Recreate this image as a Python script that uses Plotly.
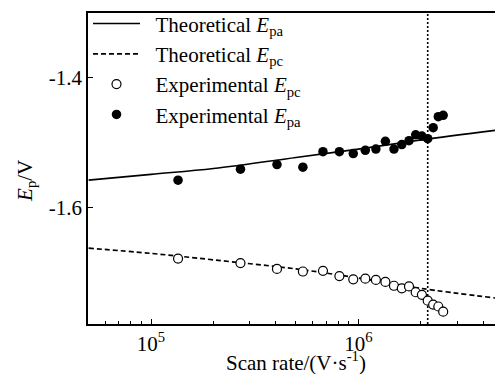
import plotly.graph_objects as go

# Scan rates of the measurements (V/s)
scan_rate = [1.35e5, 2.70e5, 4.05e5, 5.40e5, 6.75e5, 8.10e5, 9.45e5, 1.08e6,
             1.215e6, 1.35e6, 1.485e6, 1.62e6, 1.755e6, 1.89e6, 2.025e6,
             2.16e6, 2.295e6, 2.43e6, 2.565e6]

# Measured anodic / cathodic peak potentials (V)
exp_epa = [-1.558, -1.541, -1.534, -1.538, -1.514, -1.514, -1.517, -1.512,
           -1.510, -1.498, -1.510, -1.503, -1.497, -1.488, -1.490, -1.494,
           -1.477, -1.460, -1.458]
exp_epc = [-1.679, -1.686, -1.695, -1.699, -1.698, -1.706, -1.711, -1.710,
           -1.712, -1.715, -1.721, -1.725, -1.722, -1.731, -1.735, -1.744,
           -1.750, -1.753, -1.761]

# Simulated peak potentials
theory_rate = [5.0e4, 1.0e5, 2.0e5, 5.0e5, 1.0e6, 2.0e6, 4.6e6]
theory_epa = [-1.558, -1.549, -1.540, -1.523, -1.510, -1.496, -1.481]
theory_epc = [-1.663, -1.671, -1.681, -1.695, -1.709, -1.725, -1.740]

# Critical scan rate marker
critical_rate = 2.16e6

y_range = [-1.78, -1.30]
y_ticks = [-1.4, -1.6]
y_ticktext = ["-1.4", "-1.6"]
x_ticks = [1e5, 1e6]
x_ticktext = ["10<sup>5</sup>", "10<sup>6</sup>"]
x_minor = [6e4, 7e4, 8e4, 9e4, 2e5, 3e5, 4e5, 5e5, 6e5, 7e5, 8e5, 9e5,
           2e6, 3e6, 4e6]

FONT = "Liberation Serif, Times New Roman, serif"
FS = 21
PAD = "&nbsp;&nbsp;"

fig = go.Figure()

fig.add_trace(go.Scatter(
    x=[critical_rate, critical_rate], y=y_range, mode="lines",
    line=dict(color="black", width=1.6, dash="2px,2px"),
    showlegend=False, hoverinfo="skip"))

fig.add_trace(go.Scatter(
    x=theory_rate, y=theory_epa, mode="lines", line_shape="spline",
    line=dict(color="black", width=1.7),
    name=PAD + "Theoretical <i>E</i><sub>pa</sub>"))

fig.add_trace(go.Scatter(
    x=theory_rate, y=theory_epc, mode="lines", line_shape="spline",
    line=dict(color="black", width=1.7, dash="5px,3px"),
    name=PAD + "Theoretical <i>E</i><sub>pc</sub>"))

fig.add_trace(go.Scatter(
    x=scan_rate, y=exp_epc, mode="markers",
    marker=dict(symbol="circle", size=9, color="white",
                line=dict(color="black", width=1.2)),
    name=PAD + "Experimental <i>E</i><sub>pc</sub>"))

fig.add_trace(go.Scatter(
    x=scan_rate, y=exp_epa, mode="markers",
    marker=dict(symbol="circle", size=9.5, color="black",
                line=dict(color="black", width=0)),
    name=PAD + "Experimental <i>E</i><sub>pa</sub>"))

fig.update_layout(
    width=495, height=374,
    margin=dict(l=88, r=0, t=13, b=50),
    paper_bgcolor="white", plot_bgcolor="white",
    font=dict(family=FONT, size=FS, color="black"),
    legend=dict(x=0.0, y=1.031, xanchor="left", yanchor="top",
                bgcolor="rgba(0,0,0,0)", borderwidth=0,
                font=dict(family=FONT, size=FS), itemwidth=47,
                traceorder="normal"),
    xaxis=dict(type="log", range=[4.696, 6.659],
               showline=True, linecolor="black", linewidth=1.5, mirror=True,
               ticks="inside", ticklen=5, tickwidth=1.2, tickcolor="black",
               tickmode="array", tickvals=x_ticks, ticktext=x_ticktext,
               minor=dict(tickmode="array", tickvals=x_minor, ticks="inside",
                          ticklen=3, tickwidth=1, tickcolor="black"),
               showgrid=False, zeroline=False,
               tickfont=dict(family=FONT, size=FS)),
    yaxis=dict(range=y_range,
               showline=True, linecolor="black", linewidth=1.5, mirror=False,
               ticks="inside", ticklen=5, tickwidth=1.2, tickcolor="black",
               tickmode="array", tickvals=y_ticks, ticktext=y_ticktext,
               showgrid=False, zeroline=False,
               tickfont=dict(family=FONT, size=FS)),
    annotations=[
        dict(text="<i>E</i><sub>p</sub>/V", xref="paper", yref="paper",
             x=0, y=0.46, xshift=-62, textangle=-90, showarrow=False,
             xanchor="center", yanchor="middle",
             font=dict(family=FONT, size=FS)),
        dict(text="Scan rate/(V·s<sup>-1</sup>)", xref="paper", yref="paper",
             x=0.512, y=0, yshift=-37, showarrow=False,
             xanchor="center", yanchor="middle",
             font=dict(family=FONT, size=FS)),
    ],
)

fig.write_html("out.html")
